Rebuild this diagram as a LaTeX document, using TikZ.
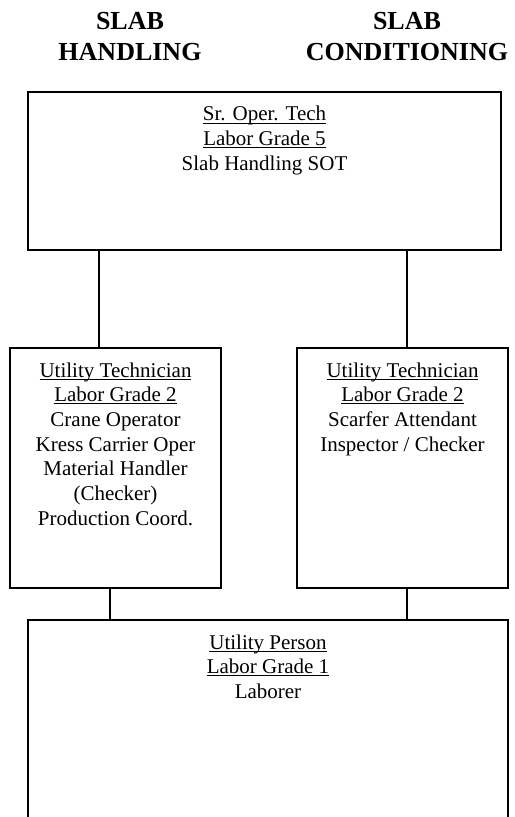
\documentclass[tikz,border=0pt]{standalone}
\usepackage{fontspec}
\setmainfont{Liberation Serif}
\usetikzlibrary{positioning}
% underlined text with the rule set just below the baseline
\newsavebox\ulsave
\newcommand\ulbox[1]{\sbox\ulsave{#1}\rlap{\rule[-1.8pt]{\wd\ulsave}{0.6pt}}\usebox\ulsave}
\begin{document}
\begin{tikzpicture}[x=0.75pt,y=-0.75pt,
  box/.style={draw=black, line width=1.5pt, rectangle, inner sep=0pt},
  txt/.style={inner sep=0pt, align=center, font=\fontsize{15.75}{18.5}\selectfont},
  hdr/.style={inner sep=0pt, align=center, font=\fontsize{19.5}{23.5}\selectfont\bfseries},
  link/.style={draw=black, line width=1.2pt}]
\clip (0,0) rectangle (514,817);
\fill[white] (0,0) rectangle (514,817);

% column headings
\node[hdr, anchor=north] (hL) at (130,12) {SLAB\\HANDLING};
\node[hdr, anchor=north] (hR) at (407,12) {SLAB\\CONDITIONING};

% boxes
\node[box, minimum width=354.75pt, minimum height=118.5pt] (top) at (264.5,171) {};
\node[box, minimum width=158.25pt, minimum height=180pt] (lm) at (115.5,468) {};
\node[box, minimum width=158.25pt, minimum height=180pt] (rm) at (402.5,468) {};
\node[box, minimum width=360pt, minimum height=165pt] (bot) at (268,730) {};

% box texts
\node[txt, below=11.3pt of top.north] (topT)
  {\ulbox{Sr. Oper. Tech}\\\ulbox{Labor Grade 5}\\Slab Handling SOT};
\node[txt, below=11.5pt of lm.north] (lmT)
  {\ulbox{Utility Technician}\\\ulbox{Labor Grade 2}\\Crane Operator\\Kress Carrier Oper\\Material Handler\\(Checker)\\Production Coord.};
\node[txt, below=11.5pt of rm.north] (rmT)
  {\ulbox{Utility Technician}\\\ulbox{Labor Grade 2}\\Scarfer Attendant\\Inspector / Checker};
\node[txt, below=11.5pt of bot.north] (botT)
  {\ulbox{Utility Person}\\\ulbox{Labor Grade 1}\\Laborer};

% connectors
\coordinate (c1) at (99,0);
\coordinate (c2) at (407,0);
\coordinate (c3) at (110,0);
\draw[link] (top.south -| c1) -- (lm.north -| c1);
\draw[link] (top.south -| c2) -- (rm.north -| c2);
\draw[link] (lm.south -| c3) -- (bot.north -| c3);
\draw[link] (rm.south -| c2) -- (bot.north -| c2);
\end{tikzpicture}
\end{document}
